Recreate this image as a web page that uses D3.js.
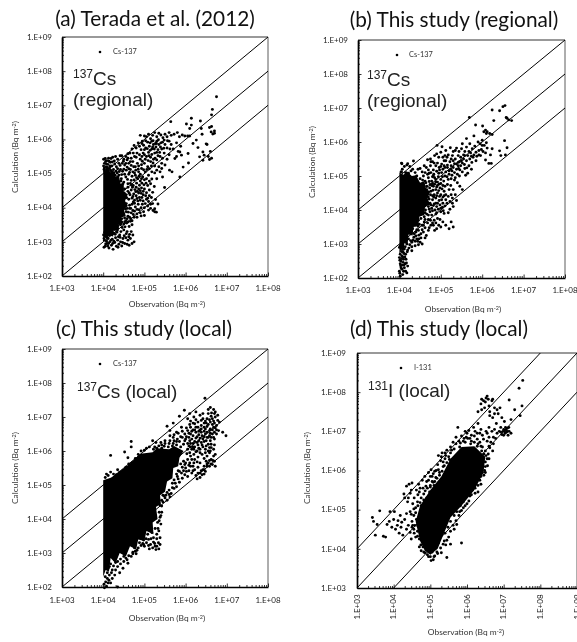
<!DOCTYPE html>
<html><head><meta charset="utf-8">
<script src="https://cdnjs.cloudflare.com/ajax/libs/d3/7.8.5/d3.min.js"></script>
<style>html,body{margin:0;padding:0;background:#fff;overflow:hidden}svg{display:block;filter:blur(.3px)}</style>
</head><body><svg id="c" width="577" height="642"></svg>
<script>
// All pairs are [log10 observation, log10 calculation].
const titles = ["(a) Terada et al. (2012)", "(b) This study (regional)", "(c) This study (local)", "(d) This study (local)"];
const xTickExpA = [3,4,5,6,7,8];
const xTickExpD = [3,4,5,6,7,8,9];
const yTickExpA = [2,3,4,5,6,7,8,9];
const yTickExpD = [3,4,5,6,7,8,9];
const ratioLinesA = [[[3,4],[8,9]],[[3,3],[8,8]],[[3,2],[8,7]]];
const ratioLinesD = [[[3,4],[8,9]],[[3,3],[9,9]],[[4,3],[9,8]]];

// Saturated (fully overlapping) part of each cloud, outlined
const coreA = [[4,3.1],[4,5.2],[4.06,5.1],[4.1,5.22],[4.17,5.03],[4.24,5.12],[4.3,4.9],[4.38,4.96],[4.42,4.7],[4.5,4.72],[4.5,4.45],[4.6,4.4],[4.53,4.2],[4.6,4.05],[4.5,3.95],[4.55,3.75],[4.44,3.72],[4.47,3.5],[4.36,3.5],[4.38,3.3],[4.26,3.35],[4.24,3.15],[4.14,3.22],[4.1,3.02],[4.05,3.15]];
const coreB = [[4,2.7],[4,5.1],[4.1,5.04],[4.18,5.14],[4.3,5],[4.4,5.02],[4.5,4.8],[4.6,4.85],[4.65,4.6],[4.75,4.55],[4.68,4.35],[4.74,4.15],[4.62,4.1],[4.6,3.85],[4.48,3.8],[4.46,3.55],[4.34,3.5],[4.32,3.25],[4.22,3.28],[4.2,3],[4.12,3.02],[4.1,2.72],[4.05,2.85]];
const coreC = [[4,2.3],[4,5.14],[4.2,5.22],[4.6,5.58],[4.9,5.92],[5.2,5.96],[5.3,6.08],[5.6,6.05],[5.72,6.15],[5.95,6],[5.85,5.8],[5.82,5.55],[5.7,5.5],[5.68,5.2],[5.55,5.1],[5.5,4.8],[5.38,4.7],[5.4,4.45],[5.28,4.35],[5.32,4],[5.2,3.9],[5.22,3.55],[5.05,3.65],[5,3.35],[4.85,3.4],[4.8,3.1],[4.65,3.2],[4.55,2.9],[4.4,3],[4.3,2.7],[4.18,2.85],[4.14,2.45],[4.06,2.5]];
const coreD = [[4.72,4.2],[4.6,4.7],[4.72,5.1],[5,5.5],[5.3,5.85],[5.55,6.3],[5.85,6.6],[6.2,6.62],[6.5,6.35],[6.45,5.95],[6.2,5.5],[5.85,5.1],[5.55,4.8],[5.35,4.35],[5.2,4],[5,3.85],[4.85,3.95]];

const pointsA = [[6.75,7.25],[6.65,6.88],[6.63,6.72],[6.63,6.38],[6.7,6.25],[6.7,6.18],[6.63,5.45],[6.5,5.87],[6.6,5.65],[6.55,5.5],[6.66,6.16],
[5.64,6.52],[6.14,6.62],[6.02,6.45],[6.14,6.42],[6.1,6.32],[6.36,6.54],[6.58,6.35],[6.62,6.22],[6.38,6.32],[6.4,6.15],[6.26,5.98],[6.18,5.88],[6.52,5.85],[6.3,5.76],[6.42,5.63],[6.34,5.49],[6.45,5.54],[6.58,5.41],[6.42,5.39],[6.06,5.59],[6.07,5.31],[5.94,5.19],[5.86,5.63],[5.9,5.54],[5.74,5.44],[5.61,5.1],[5.67,5.05],[5.86,4.9],[5.49,4.59],[5.33,4.11],[5.25,3.97],[5.21,3.92],[5.29,3.87],[5,3.77],[5.25,3.88],
[5.72,6.15],[5.8,6.2],[5.85,6.08],[5.92,6.13],[5.98,6.1],[6.05,6.1],[6.1,6.1],[5.65,6.12],[5.6,6.2],[5.55,6.08],[5.5,6.15],[5.45,6.05],[5.4,6.13],[5.35,6.18],[5.3,6.08],[5.25,6.2],[5.2,6.12],[5.15,6.02],[5.1,6.15],[5.05,6.08],[5,6.1],[4.95,5.95],[4.9,6.12],[4.85,5.9],[4.8,5.75],[4.75,5.82],[4.7,5.72],[4.65,5.6],[4.6,5.58],[4.55,5.5],[4.45,5.52],[4.5,5.42],
[5.3,5.95],[5.22,5.85],[5.28,5.78],[5.18,5.95],[5.12,5.8],[5.08,5.92],[5.03,5.75],[4.98,5.83],[4.92,5.7],[4.88,5.55],[4.82,5.6],[4.76,5.5],[4.72,5.35],[4.68,5.45],[4.62,5.3],[4.58,5.4],[5.35,5.85],[5.4,5.9],[5.33,5.7],[5.25,5.6],[5.18,5.72],[5.1,5.62],[5.05,5.5],[4.97,5.6],[4.9,5.42],[4.83,5.3],[4.78,5.2],[5.42,5.72],[5.5,5.85],[5.55,5.75],[5.6,5.95],[5.65,5.85],[5.7,5.72],[5.48,5.6],[5.38,5.5],[5.3,5.4],[5.22,5.42],[5.15,5.35],[5.08,5.2],[5,5.3],[4.93,5.15],[4.86,5.05],[5.78,5.9],[5.82,5.65],[5.88,5.8],[5.78,5.5],[5.6,5.55],[5.55,5.42],[5.42,5.3],[5.35,5.2],[5.5,5.25],
[5.3,5.1],[5.25,5.22],[5.18,5.05],[5.1,4.95],[5.02,5.05],[5.05,4.85],[4.96,4.9],[4.9,4.78],[4.84,4.85],[4.78,4.95],[4.72,5.05],[4.66,5.12],[4.62,4.98],[4.56,5.1],[4.52,5.25],[4.46,5.3],[4.42,5.12],[4.38,4.95],[4.44,4.85],[4.5,4.75],[4.55,4.9],[4.6,4.7],[4.68,4.8],[4.73,4.65],[4.8,4.6],[4.86,4.55],[4.92,4.42],[5,4.55],[5.08,4.65],[5.15,4.7],[5.2,4.45],[5.12,4.35],[5.05,4.25],[4.97,4.2],[4.88,4.3],[4.8,4.35],[4.74,4.4],[4.68,4.52],[4.6,4.48],[4.54,4.35],[4.46,4.55],[4.42,4.35],[4.4,4.62],[4.48,4.18],[4.56,4.12],[4.62,4.25],[4.7,4.1],[4.78,4.02],[4.85,4.1],[4.92,4],[5,4],[5.08,4.05],[5.15,4.1],[4.72,3.92],[4.64,3.98],[4.56,3.88],[4.48,3.95],[4.42,3.82],[4.45,3.68],[4.52,3.7],[4.6,3.75],[4.67,3.68],[4.75,3.72],[4.82,3.82],[4.9,3.85],[4.38,3.55],[4.42,3.5],[4.5,3.52],[4.57,3.55],[4.63,3.45],[4.7,3.5],[4.35,3.4],[4.43,3.3],[4.5,3.35],[4.58,3.3],[4.64,3.22],[4.68,3.3],[4.55,3.12],[4.6,3.05],[4.66,3.1],[4.72,3.2],[4.75,3],[4.7,2.95],
[4.01,3.2],[4.03,3.05],[4.05,2.87],[4.07,3.15],[4.09,2.95],[4.02,2.84],[4.12,3.1],[4.14,2.82],[4.16,3],[4.18,3.2],[4.2,2.9],[4.22,3.08],[4.24,2.78],[4.26,3.25],[4.28,2.98],[4.3,3.12],[4.32,2.87],[4.35,3.05],[4.38,2.93],[4.4,3.2],[4.42,3],[4.45,2.88],[4.48,3.1],[4.52,2.95],[4.04,3.28],[4.1,3.3],[4.16,3.32],[4.02,3.1],[4.11,2.88],[4.19,3.05],[4.26,3.02],[4.33,3.28],[4.47,2.98],[4.58,2.93],[4.63,2.9],[4.28,3.36],[4.24,3.45],[4.33,3.6],
[4.01,5.42],[4.03,5.3],[4.05,5.44],[4.07,5.2],[4.02,5.12],[4.09,5.38],[4.11,5.27],[4.13,5.45],[4.15,5.15],[4.04,5.05],[4.06,5.36],[4.01,5.22],[4.12,5.07],[4.17,5.33],[4.19,5.44],[4.21,5.22],[4.23,5.48],[4.2,5.05],[4.25,5.12],[4.27,5.37],[4.3,5.5],[4.32,5.2],[4.35,5.42],[4.29,4.95],[4.34,5.02],[4.38,5.3],[4.41,5.52],[4.18,5.1],[4.28,5.28],[4.1,5.18],[4.24,4.85],[4.3,4.78],[4.36,4.68],[4.33,4.88],[4.4,4.45],[4.44,4.22],[4.38,4.08],[4.42,4.02],[4.52,4.05],[4.47,4.42],[4.52,4.55],[4.6,4.6],[4.65,4.38],[4.7,4.28],[4.58,3.98],[4.68,3.85],[4.76,4.22],[4.84,4.2],[4.95,4.1],
[4.48,4.7],[4.43,4.78],[4.51,4.43],[4.49,4.05],[4.47,3.84],[4.39,3.66],[4.36,3.47],[4.54,3.96],[4.5,3.82],[4.55,3.62],[4.61,3.87],[4.64,4.07],[4.57,4.29],[4.63,4.43],[4.71,4.6],[4.66,4.71],[4.59,4.83],[4.52,4.98],[4.47,5.07],[4.41,5.24],[4.35,5.14],[4.26,5.02],[4.16,5.22],[4.08,5.12],[4.03,5.16],[4.22,5.34],[4.14,5.36],[4.07,5.29],[4.31,5.07],[4.39,5.06],[4.45,4.97],[4.5,5.13],[4.58,5.19],[4.64,5.03],[4.7,4.92],[4.75,4.81],[4.81,4.72],[4.88,4.66],[4.94,4.72],[4.99,4.67],[4.93,4.58],[4.86,4.43],[4.79,4.47],[4.72,4.33],[4.76,4.13],[4.82,3.95],[4.87,3.94],[4.73,3.8],[4.66,3.6],[4.6,3.58],[4.53,3.44],[4.46,3.42],[4.41,3.13],[4.37,3.15],[4.29,3.22],[4.23,3.24],[4.14,3.2],[4.08,3.02],[4.06,2.94],[4.13,2.95],[4.23,2.95],[4.36,2.84],[4.51,3.18],[4.56,3.24],[4.62,3.15],[4.9,4.98],[4.85,5.13],[4.79,5.1],[4.74,5.2],[4.68,5.24],[4.62,5.14],[4.55,5.3],[4.49,5.36],[4.93,5.26],[4.98,5.11],[5.06,5.12],[5.12,5.14],[5.17,5.22],[5.21,5.31],[5.26,5.45],[5.33,5.52],[5.15,5.48],[5.09,5.38],[5.02,5.42],[4.95,5.36],[4.86,5.22],[5.44,5.45],[5.47,5.74],[5.37,5.62],[5.29,5.88],[5.2,5.78],[5.14,5.68],[5.07,5.73],[5,5.7],[4.94,5.5],[5.25,5.02],[5.18,4.84],[5.12,4.78],[5.04,4.72],[5,4.82],[4.97,4.38],[5.05,4.44],[5.12,4.52],[5.17,4.3],[5.1,4.18],[5.02,4.12],[4.9,4.22],[5.24,4.62],[5.3,4.85],[5.38,5.05],[5.44,4.9],[5.42,5.15],[5.2,4.12],[5.15,3.98],[5.27,4.24],[5.1,3.93],[4.98,3.88],[4.92,3.76],
[4.76,5.02],[4.81,4.88],[4.87,4.92],[4.93,4.85],[4.69,4.66],[4.77,4.53],[4.83,4.48],[4.9,4.5],[4.97,4.48],[5.03,4.35],[5.08,4.28],[4.94,4.3],[4.82,4.27],[4.73,4.17],[4.67,3.98],[4.76,3.9],[4.82,3.72],[4.58,3.68],[4.64,3.72],[4.7,3.62],[4.52,3.58],[4.45,3.58],[5.14,5.9],[5.21,5.96],[5.27,5.88],[5.34,5.99],[5.39,5.78],[5.44,5.92],[5.48,5.98],[5.56,5.96],[5.62,5.72],[5.24,5.72],[5.3,5.62],[5.18,5.56],[5.11,5.52],[5,5.55],[4.88,5.8],[4.94,5.88],[5.03,5.96],[4.8,5.48],[4.73,5.6],[4.66,5.35],[4.6,5.45]];

const pointsB = [[6.24,6.94],[6.42,6.92],[6.55,7.07],[6.5,7.04],[5.69,6.72],[6.28,6.63],[6.6,6.7],[6.64,6.65],[6.71,6.63],[6.58,6.72],[5.84,6.5],[6.01,6.47],[6.08,6.35],[6.12,6.3],[6.18,6.25],[6.04,6.3],[6.1,6.25],[6.24,6.22],[6.54,6.04],[6.6,5.83],[6.42,5.74],[6.56,5.62],[6.45,5.6],[6.24,5.8],[6.2,5.62],[6.08,5.47],[6.16,5.37],[6.22,5.37],[5.8,6.18],[5.62,6.1],[5.52,5.95],[5.23,5.83],[5.03,5.86],[4.91,5.9],[5,5.7],[5.12,5.75],[4.85,5.6],[4.95,5.55],[4.9,5.65],[5.35,5.75],[5.42,5.6],[5.5,5.8],[5.58,5.72],[5.62,5.85],[5.7,5.95],[5.76,5.8],[5.82,5.88],[5.9,6],[5.95,5.95],[6,6.05],[5.85,5.7],[5.92,5.75],[5.98,5.78],[6.05,5.9],[6.1,5.98],[5.65,5.6],[5.72,5.68],[5.78,5.55],[5.85,5.45],[5.75,5.4],[5.68,5.3],[5.62,5.45],[5.55,5.5],[5.48,5.55],[5.42,5.4],[5.35,5.5],[5.28,5.6],[5.22,5.42],[5.15,5.55],[5.08,5.45],[5.02,5.35],[4.96,5.25],[5.1,5.25],[5.2,5.15],[5.3,5.25],[5.38,5.2],[5.48,5.3],[5.52,5.12],[5.58,5.22],[5.65,5.08],[5.6,5.02],[5.45,5],[5.35,4.95],[5.27,5.02],[5.18,4.9],[5.1,5],[5.02,5.1],[4.95,5.08],[4.88,5.3],[4.82,5.18],[4.75,5.3],[4.7,5.18],[4.65,5.25],[4.6,5.3],[4.55,5.12],[4.5,5.22],[4.45,5.2],[4.38,5.1],[4.32,5.2],[4.25,5.28],[4.18,5.32],[4.12,5.28],[4.07,5.2],[4.2,5.36],[4.05,5.12],[4.28,5.15],[4.15,5.1],[4.22,5.08],[4.42,5],[4.5,4.92],[4.58,5],[4.62,4.85],[4.7,4.95],[4.78,4.85],[4.85,4.95],[4.92,4.82],[5,4.9],[5.05,4.72],[4.98,4.65],[4.9,4.68],[4.82,4.7],[4.74,4.75],[4.66,4.7],[4.58,4.75],[4.5,4.72],[4.52,4.55],[4.6,4.55],[4.68,4.5],[4.76,4.55],[4.84,4.45],[4.92,4.5],[5,4.45],[5.08,4.55],[5.2,4.6],[5.25,4.45],[5.12,4.3],[5.05,4.2],[4.96,4.28],[4.88,4.2],[4.8,4.3],[4.72,4.32],[4.64,4.35],[4.55,4.38],[4.5,4.3],[4.48,4.15],[4.56,4.18],[4.62,4.12],[4.7,4.1],[4.78,4.05],[4.86,4],[4.94,4.02],[5,3.95],[5.08,3.9],[5.18,3.92],[5.22,4.25],[5.28,4.2],[5.3,4.1],[5.25,3.65],[5.3,3.5],[5.2,3.45],[5.12,3.55],[5.05,3.65],[5,3.5],[4.92,3.75],[4.84,3.7],[4.78,3.85],[4.7,3.85],[4.62,3.92],[4.55,3.95],[4.48,3.9],[4.4,3.9],[4.38,3.75],[4.46,3.7],[4.52,3.75],[4.6,3.65],[4.68,3.62],[4.76,3.55],[4.85,3.4],[4.9,3.45],[4.95,3.55],[4.55,3.55],[4.45,3.52],[4.38,3.55],[4.32,3.45],[4.28,3.55],[4.4,3.35],[4.46,3.4],[4.52,3.3],[4.58,3.35],[4.65,3.25],[4.7,3.4],[4.35,3.2],[4.28,3.3],[4.22,3.15],[4.3,3.05],[4.42,3.15],[4.5,3.05],[4.55,3],[4.46,2.98],[4.38,2.95],[4.25,2.98],[4.18,3],[4.12,3.1],[4.2,2.82],[4.3,2.8],[4.12,2.85],[4.05,2.78],[4.15,2.7],[4.08,2.62],[4.02,2.7],[4.1,2.55],[4.04,2.5],[4.16,2.55],[4.14,2.42],[4.07,2.38],[4.02,2.42],[4.12,2.3],[4.04,2.3],[4.2,2.35],[4.15,2.2],[4.18,2.15],[4.08,2.1],[4.02,2.05],[4.1,2.2],[4.06,2.65],[4,2.9],[4,2.6],[4,2.2],[4.34,5.44],[4.06,5.36],[4.04,5.12],[4.05,5.38],[4.3,4.95],[4.35,4.82],[4.68,5.48],[4.75,5.5],[4.8,5.42],
[4.02,2.95],[4.07,2.86],[4.11,2.72],[4.05,2.57],[4.01,2.52],[4.13,2.62],[4.09,2.46],[4.03,2.36],[4.06,2.26],[4.01,2.14],[4.11,2.38],[4.17,2.44],[4.09,2.76],[4.14,2.92],[4.19,2.77],[4.23,2.88],[4.27,3.1],[4.33,3.12],[4.4,3.24],[4.47,3.26],[4.44,3.08],[4.36,3.3],[4.48,3.58],[4.6,3.8],[4.63,4],[4.67,4.22],[4.74,4.2],[4.82,4.13],[4.9,4.1],[4.98,4.15],[5.04,4.08],[5.1,4.12],[5.15,4.2],[5.18,4.4],[5.12,4.45],[5.05,4.38],[4.97,4.4],[4.88,4.35],[4.8,4.42],[4.7,4.38],[4.66,4.6],[4.73,4.65],[4.81,4.58],[4.88,4.6],[4.95,4.57],[5.03,4.62],[5.1,4.7],[5.16,4.75],[5.24,4.72],[5.3,4.6],[5.33,4.88],[5.25,4.92],[5.15,4.98],[5.07,4.85],[4.96,4.76],[4.88,4.82],[4.8,4.78],[4.72,4.84],[4.64,4.8],[4.56,4.88],[4.62,5.1],[4.68,5.05],[4.76,5.1],[4.83,5.05],[4.9,5.14],[4.97,5.18],[5.05,5.2],[5.12,5.12],[5.2,5.05],[5.27,5.15],[5.33,5.1],[5.4,5.05],[5.46,5.18],[5.42,5.3],[5.33,5.36],[5.25,5.3],[5.16,5.32],[5.08,5.3],[5,5.28],[4.92,5.38],[4.84,5.38],[4.76,5.42],[5.05,5.55],[5.12,5.45],[5.18,5.62],[5.1,5.6],[5.3,5.45],[5.38,5.35],[5.45,5.42],[5.52,5.38],[5.57,5.34],[5.63,5.24],[5.7,5.5],[5.74,5.2],[5.8,5.62],[5.87,5.58],[5.92,5.62],[5.96,5.6],[6.02,5.72],[6.08,5.68],[6,5.9],[6.12,5.82],[5.4,4.8],[5.46,4.7],[5.52,4.6],[5.28,4.35],[5.35,4.45],[5.38,4.28],[5.22,4.02],[4.75,3.7],[4.82,3.55],[4.88,3.62],[4.98,3.72],[4.9,3.92],[4.72,3.48],[4.62,3.48],[4.55,3.42],[4.52,3.18],[4.62,3.18],[4.47,3.15],[4.38,3.08],[4.3,2.92],
[4.78,4.72],[4.85,4.76],[4.92,4.72],[5.0,4.78],[4.88,4.9],[4.94,4.98],[5.04,4.98],[4.8,4.98],[4.72,5.08],[4.82,5.0],[4.75,4.45],[4.83,4.38],[4.9,4.42],[5.02,4.3],[5.08,4.42],[4.92,4.2],[4.84,4.18],[4.76,4.15],[4.72,4.02],[4.8,3.98],[4.88,3.88],[5.0,4.05],[5.06,3.98],[4.66,3.88],[4.74,3.95],[4.7,3.72],[4.8,3.62],[4.58,3.55],[4.62,3.72],[4.42,3.42],[5.3,5.72],[5.38,5.82],[5.44,5.72],[5.55,5.62],[5.68,5.72],[5.74,5.58],[5.58,5.6],[5.25,5.5],[5.16,5.25],[5.24,5.2],[5.43,5.22],[5.5,5.45]];

const pointsC = [[6.47,7.55],[5.97,7.2],[5.85,7.02],[6.1,7.1],[6.05,6.95],[5.7,6.82],[5.55,6.73],[5.62,6.6],[5.78,6.55],[5.9,6.7],[6.2,7],[6.25,7.15],[6.35,7.05],[6.42,6.95],[6.55,7.22],[6.6,7.28],[6.68,7.22],[6.63,7.12],[6.7,7.1],[6.72,7],[6.65,6.95],[6.78,6.9],[6.82,6.85],[6.6,6.85],[6.52,6.95],[6.45,6.82],[6.38,6.75],[6.3,6.85],[6.22,6.8],[6.12,6.7],[6.05,6.6],[5.98,6.5],[5.88,6.42],[5.8,6.35],[5.72,6.3],[5.62,6.3],[5.5,6.3],[5.4,6.25],[5.35,6.15],[5.28,6.25],[5.2,6.3],[5.12,6.12],[5.05,6.08],[5,6.02],[4.92,6],[4.85,5.9],[4.78,5.78],[4.7,5.65],[4.62,5.62],[4.55,5.52],[4.48,5.42],[4.4,5.38],[4.32,5.3],[4.25,5.32],[4.18,5.38],[4.12,5.28],[4.05,5.22],[4.08,5.32],[4.35,5.45],[4.6,5.8],[4.68,6.12],[4.68,6.28],[4.52,5.97],[4.18,5.87],
[6.1,6.3],[6.18,6.45],[6.25,6.55],[6.35,6.62],[6.45,6.7],[6.52,6.55],[6.6,6.65],[6.68,6.7],[6.75,6.75],[6.7,6.55],[6.62,6.4],[6.55,6.4],[6.48,6.5],[6.4,6.45],[6.32,6.3],[6.25,6.38],[6.18,6.22],[6.08,6.15],[6.15,6.05],[6.05,6.05],[6.22,6.12],[6.3,6.18],[6.38,6.25],[6.28,6],[6.2,5.9],[6.12,5.85],[6.05,5.75],[5.98,5.6],[5.92,5.52],[5.85,5.4],[5.8,5.25],[5.72,5.15],[5.68,5.05],[5.6,4.85],[5.55,4.78],[5.48,4.68],[5.42,4.55],[6.1,5.65],[6.18,5.55],[6.22,5.75],[6.3,5.82],[6.35,5.65],[6.4,5.9],[6.48,6.05],[6.55,6.2],[6.62,6.2],[6.7,6.35],[6.58,5.95],[6.68,6.05],[6.72,5.9],[6.62,5.75],[6.7,5.7],[6.72,5.55],[6.65,5.6],[6.58,5.55],[6.5,5.7],[6.42,5.45],[6.48,5.4],[6.52,5.55],[6.58,5.72],[6.3,5.35],[6.4,5.3],[6.35,5.22],[6.28,5.18],[6.45,5.32],[6.22,5.45],[6.15,5.35],[6.08,5.42],[6.05,5.25],[5.98,5.3],[5.92,5.2],[5.85,5.08],[5.78,4.95],[5.72,4.9],[5.65,4.75],[5.55,4.55],[5.62,4.65],[6.9,6.55],[6.98,6.45],[6.8,6.6],[6.6,6.3],[6.5,6.3],[6.65,6.5],
[5.38,4.4],[5.42,4.2],[5.38,4.05],[5.4,3.85],[5.35,3.65],[5.38,3.45],[5.3,3.2],[5.35,3.12],[5.28,3.1],[5.25,3.28],[5.2,3.15],[5.15,3.25],[5.1,3.4],[5.05,3.3],[5,3.2],[4.92,3.22],[4.85,3.15],[4.78,3.05],[4.72,2.98],[4.62,2.92],[4.55,2.85],[4.5,2.75],[4.42,2.68],[4.35,2.6],[4.3,2.72],[4.22,2.5],[4.28,2.35],[4.18,2.68],[4.12,2.55],[4.15,2.35],[4.1,2.25],[4.06,2.15],[4.02,2.08],[4.08,2.02],[4.12,2.12],[4.35,2],[4.03,1.98],[4.22,2.25],[4.18,2.12],[5.32,3.9],[5.26,3.72],[5.22,3.45],[5.3,3.55],[5.34,3.3],[5.18,3.6],[5.12,3.12],[5.08,3.55],[4.98,3.38],[4.8,2.98],[4.6,2.7],[4.48,2.55],[4.4,2.42],[5.38,3.25],[5.36,4.2],[6,5.5],[5.35,4.45],[5.45,4.7],[5.5,4.62],
[5.95,6.2],[5.88,6.12],[5.78,6.18],[5.68,6.15],[5.58,6.12],[5.48,6.14],[5.42,6.08],[5.3,6.08],[5.22,6.05],[5.62,6.45],[5.72,6.48],[5.82,6.52],[5.92,6.58],[6,6.35],[6.05,6.22],[6.12,6.5],[6.18,6.62],[6.25,6.7],[6.32,6.48],[6.38,6.55],[6.42,6.35],[6.48,6.65],[6.55,6.78],[6.6,6.52],[6.65,6.62],[6.7,6.82],[6.75,6.62],[6.62,7.02],[6.55,7.1],[6.48,6.88],[6.42,7.1],[6.38,6.9],[6.3,6.7],[6.25,6.92],[6.18,6.82],[6.12,6.88],[6.72,7.15],[6.78,7.05],[6.75,6.5],[6.68,6.4],[6.58,6.1],[6.5,6.15],[6.42,6.12],[6.35,6.05],[6.28,6.25],[6.2,6.05],[6.12,6.12],[6.03,5.92],[6.1,5.95],[6.15,5.75],[6.08,5.58],[6.02,5.4],[5.95,5.42],[5.9,5.35],[5.82,5.18],[5.75,5.05],[5.68,4.92],[5.6,4.72],[5.52,4.7],[5.45,4.5],[5.42,4.38],[5.4,4.1],[5.36,3.95],[5.33,3.72],[5.3,3.42],[5.26,3.2],[5.22,3.32],[5.16,3.42],[5.1,3.22],[5.04,3.42],[4.96,3.28],[4.88,3.3],[4.82,3.08],[4.76,3.15],[4.68,2.9],[4.58,2.8],[4.5,2.9],[4.42,2.82],[4.35,2.75],[4.3,2.5],[4.25,2.62],[4.2,2.42],[4.15,2.6],[4.1,2.42],[4.05,2.3],[4.14,2.2],[4.28,2.8],[4.72,3.02],[4.98,3.25],[6.3,5.52],[6.38,5.42],[6.45,5.55],[6.55,5.65],[6.62,5.62],[6.68,5.85],[6.6,6],[6.52,5.85],[6.45,5.78],[6.35,5.95],[6.28,5.68],[6.2,5.65],[5.7,6.4],[5.5,6.22],[5.25,6.12],[5.42,6.18],[6.02,6.68],[6.1,6.78],
[6.02,6.42],[6.08,6.4],[6.15,6.35],[6.22,6.28],[6.28,6.42],[6.35,6.38],[6.45,6.42],[6.52,6.72],[6.58,6.6],[6.65,6.78],[6.72,6.68],[6.68,6.88],[6.58,6.92],[6.5,6.82],[6.45,6.58],[6.38,6.65],[6.32,6.58],[6.22,6.62],[6.15,6.58],[6.08,6.52],[5.98,6.3],[5.92,6.4],[5.85,6.28],[5.78,6.28],[5.7,6.22],[5.6,6.22],[6.12,6.22],[6.18,6.12],[6.25,5.98],[6.32,6.08],[6.4,6.18],[6.45,6.28],[6.52,6.4],[6.58,6.45],[6.48,5.95],[6.55,6.0],[6.62,6.1],[6.7,6.18],[6.66,5.72],[6.52,5.62],[6.45,5.45],[6.35,5.35],[6.25,5.28],[6.18,5.42],[6.12,5.55],[6.0,5.65],[5.95,5.7],[5.88,5.62],[5.82,5.42],[5.78,5.32]];

const pointsD = [[3.42,4.8],[3.45,4.7],[3.62,4.97],[3.55,4.62],[3.5,4.35],[3.72,4.32],[3.78,4.3],[3.82,4.62],[3.88,4.7],[3.9,4.95],[3.95,4.55],[4,4.75],[4.02,4.95],[4.05,4.5],[4.1,4.6],[4.12,4.72],[4.15,4.4],[4.18,4.85],[4.2,4.55],[4.22,4.68],[4.28,5.4],[4.35,5.6],[4.3,4.75],[4.35,4.9],[4.38,5.2],[4.42,5.65],[4.48,5.5],[4.5,5.68],[4.45,4.95],[4.4,4.6],[4.45,4.42],[4.5,4.7],[4.55,4.5],[4.6,4.3],[4.52,5.15],[4.56,5.3],[4.6,5.05],[4.65,5.2],[4.7,5.45],[4.75,5.3],[4.68,5.65],[4.78,5.75],[4.85,5.85],[4.95,5.95],[5.02,6.02],[4.88,5.6],[4.95,5.75],[4.7,4.05],[4.75,3.95],[4.8,4.05],[4.85,3.9],[4.92,3.85],[5,3.8],[5.02,3.7],[5.08,3.72],[5.12,3.82],[5.2,3.88],[5.3,3.9],[5.45,3.78],[5.55,4.12],[5.85,4.15],[5.65,4.5],[5.7,4.72],[5.5,4.3],[5.42,4.1],[5.8,4.95],[5.9,5.05],[6,5.15],[6.08,5.35],[6.15,5.5],[6.25,5.7],[6.35,5.75],[6.42,5.95],[6.5,6.1],[6.55,6.3],
[5.2,6.15],[5.3,6.35],[5.22,6.38],[5.28,6.25],[5.32,6.45],[5.4,6.3],[5.45,6.52],[5.55,6.6],[5.62,6.72],[5.7,6.85],[5.78,6.75],[5.85,6.88],[5.92,6.82],[6,6.95],[6.05,7.02],[6.12,6.9],[6.2,6.88],[6.28,6.8],[6.35,6.72],[6.42,6.6],[6.5,6.5],[6.45,6.8],[6.55,6.75],[6.6,6.62],[6.52,7],[6.38,7.05],[6.3,7.2],[6.22,7],[5.75,7.1],[5.95,7],
[6.55,6.95],[6.6,7.1],[6.68,7],[6.72,6.85],[6.65,6.72],[6.75,7.05],[6.82,6.95],[6.88,7],[6.95,6.92],[7,7.05],[7.05,7.1],[7.02,7],[7.08,6.98],[7.1,7.08],[7.15,7],[7.12,6.9],[7.2,6.95],[6.92,7.1],[6.8,7.2],[6.7,7.35],[6.62,7.4],[6.85,7.45],[6.9,7.6],[6.95,7.35],[7.02,7.25],[7.2,7.3],[7.3,7.55],[7.45,7.4],[7.5,7.65],[7.42,8.1],[7.52,8.3],[7.15,7.8],[6.75,7.6],[6.82,7.55],
[6.38,7.7],[6.4,7.82],[6.5,7.75],[6.48,7.6],[6.6,7.65],[6.55,7.9],[6.4,7.55],[6.68,7.78],[6.58,7.82],[6.7,7.82],[6.45,7.78],[6.52,7.85],[6.62,7.5],[6.3,7.5],[6.75,7.45],[6.35,6.95],
[5.05,5.85],[5.12,5.98],[5,5.62],[5.08,5.7],[5.16,6],[4.9,5.3],[4.98,5.45],[4.82,5.25],[4.75,5.1],[4.8,4.95],[4.62,4.75],[4.66,4.58],[4.55,4.85],[4.72,4.52],[4.58,4.6],[4.65,4.32],[4.7,4.25],[5.35,4.12],[5.22,4.15],[5.12,4.05],[5.05,3.92],[4.95,3.95],[4.88,4.1],[5.4,4.4],[5.48,4.55],[5.55,4.7],[5.65,4.85],[5.72,4.95],[5.82,5.1],[5.9,5.2],[5.98,5.38],[6.05,5.48],[6.15,5.62],[6.22,5.55],[6.3,5.62],[6.38,5.85],[6.48,6],[6.5,6.22],[6.4,6.5],[6.3,6.68],[6.12,6.75],[5.95,6.72],[5.8,6.6],[5.65,6.55],[5.55,6.45],[5.45,6.2],[5.35,6.1],[5.25,5.95],[5.15,5.82],[5.05,5.72],
[4.55,5.02],[4.48,4.88],[4.52,4.6],[4.6,4.92],[4.66,5.1],[4.72,5.18],[4.82,5.4],[4.86,5.48],[4.92,5.55],[5,5.58],[5.1,5.62],[5.18,5.8],[5.25,5.88],[5.32,5.98],[5.38,6.12],[5.42,6.38],[5.5,6.35],[5.58,6.52],[5.7,6.68],[5.82,6.7],[5.9,6.75],[6.02,6.82],[6.1,6.68],[6.2,6.72],[6.28,6.62],[6.38,6.62],[6.46,6.42],[6.52,6.38],[6.58,6.42],[6.6,6.3],[6.56,6.12],[6.5,5.95],[6.46,5.88],[6.38,5.65],[6.3,5.45],[6.22,5.42],[6.12,5.38],[6.05,5.22],[5.95,5.1],[5.85,4.98],[5.78,4.85],[5.72,4.62],[5.62,4.6],[5.55,4.45],[5.45,4.22],[5.38,4.2],[5.28,4.02],[5.18,3.92],[5.1,3.8],[4.95,3.8],[4.82,3.92],[4.74,4.1],[4.65,4.45],[4.56,4.4],[4.5,4.55],[4.48,4.25],[4.35,4.5],[4.25,4.35],[4.3,5.3],[4.4,5.3],[4.45,5.42],[4.62,5.5],[4.66,5.38],[4.72,5.55],[4.8,5.55],[4.9,5.72],[5,5.85],[5.08,5.92],[5.12,5.72],[5.22,6.02],[5.35,6.22],[5.4,6.45],[5.52,6.28],[6.62,6.58],[6.7,6.5],[6.72,6.68],[6.78,6.82],[6.6,6.85],[6.42,6.9],[6.28,6.95],[6.18,7.1],[6.08,6.82],[5.98,6.85],[6.92,6.98],[6.98,7],[7.04,6.95],[7.06,7.04],[7.1,7],[7,6.9],[7.14,7.1]];

const svg = d3.select("#c");
const FONT = "Lato, 'Open Sans', sans-serif", ARIAL = "'Liberation Sans', Arial, sans-serif";
const panels = [
 {title:titles[0], tx:155, ty:26, l:62, r:268, t:37, b:276, xs:xTickExpA, ys:yTickExpA, lines:ratioLinesA, core:coreA, pts:pointsA, leg:"Cs-137", lx:100, ly:52, ltx:113,
  big:["137","Cs"], bx:73, by:85, big2:"(regional)", by2:106, ylx:15, yly:157, xty:291, xtly:307, xtlx:167, ylabR:52, grayTop:true},
 {title:titles[1], tx:454, ty:27, l:358, r:565, t:40, b:278, xs:xTickExpA, ys:yTickExpA, lines:ratioLinesA, core:coreB, pts:pointsB, leg:"Cs-137", lx:397, ly:55, ltx:409,
  big:["137","Cs"], bx:367, by:86, big2:"(regional)", by2:107, ylx:312, yly:162, xty:293, xtly:312, xtlx:463, ylabR:348},
 {title:titles[2], tx:144, ty:336, l:62, r:268, t:349, b:587, xs:xTickExpA, ys:yTickExpA, lines:ratioLinesA, core:coreC, pts:pointsC, leg:"Cs-137", lx:100, ly:364, ltx:113,
  big:["137","Cs (local)"], bx:77, by:398, ylx:15, yly:468, xty:603, xtly:621, xtlx:167, ylabR:52},
 {title:titles[3], tx:439, ty:336, l:357, r:577, t:353, b:588, xs:xTickExpD, ys:yTickExpD, lines:ratioLinesD, core:coreD, pts:pointsD, leg:"I-131", lx:401, ly:368, ltx:414,
  big:["131","I (local)"], bx:368, by:397, ylx:307, yly:468, xty:0, xtly:635, xtlx:466, ylabR:346, rotX:true, grayTop:true}
];

panels.forEach(p=>{
  const xE = d3.extent(p.xs), yE = d3.extent(p.ys);
  const x = d3.scaleLog().domain([10**xE[0],10**xE[1]]).range([p.l,p.r]);
  const y = d3.scaleLog().domain([10**yE[0],10**yE[1]]).range([p.b,p.t]);
  const g = svg.append("g");
  const X = d=>x(10**d[0]), Y = d=>y(10**d[1]);

  // title
  g.append("text").attr("x",p.tx).attr("y",p.ty).attr("text-anchor","middle")
    .attr("font-family",FONT).attr("font-size",20.8).attr("fill","#111").text(p.title);

  // frame
  g.append("line").attr("x1",p.l).attr("x2",p.r).attr("y1",p.t).attr("y2",p.t).attr("stroke",p.grayTop?"#777":"#333").attr("stroke-width",p.grayTop?1.6:1);
  g.append("line").attr("x1",p.r).attr("x2",p.r).attr("y1",p.t).attr("y2",p.b).attr("stroke","#333").attr("stroke-width",.8);

  // ratio lines
  p.lines.forEach(ln=>{
    g.append("path").attr("d",d3.line().x(X).y(Y)(ln)).attr("fill","none").attr("stroke","#000").attr("stroke-width",1);
  });

  // saturated core and points
  g.append("path").attr("d",d3.line().x(X).y(Y).curve(d3.curveLinearClosed)(p.core)).attr("fill","#000");
  g.selectAll("circle.pt").data(p.pts).join("circle").attr("class","pt").attr("cx",X).attr("cy",Y).attr("r",1.45).attr("fill","#000");

  // axes with log minor ticks pointing inward
  const tickVals = s => { const [a,b]=d3.extent(s); const o=[]; for(let e=a;e<b;e++) for(let m=1;m<10;m++) o.push(m*10**e); o.push(10**b); return o; };
  const axB = d3.axisTop(x).tickValues(tickVals(p.xs)).tickFormat("").tickSizeOuter(0).tickSizeInner(2);
  const axL = d3.axisRight(y).tickValues(tickVals(p.ys)).tickFormat("").tickSizeOuter(0).tickSizeInner(2);
  const gb = g.append("g").attr("transform",`translate(0,${p.b})`).call(axB);
  const gl = g.append("g").attr("transform",`translate(${p.l},0)`).call(axL);
  [gb,gl].forEach(a=>{a.selectAll("line").attr("stroke","#000").attr("stroke-width",.8); a.select(".domain").attr("stroke","#000").attr("stroke-width",1.7);});
  gb.selectAll(".tick line").filter(d=>Math.abs(Math.log10(d)%1)<1e-6).attr("y2",-3.5);
  gl.selectAll(".tick line").filter(d=>Math.abs(Math.log10(d)%1)<1e-6).attr("x2",3.5);

  // tick labels
  const lab = e=>`1.E+${String(e).padStart(2,"0")}`;
  p.ys.forEach(e=> g.append("text").attr("x",p.ylabR).attr("y",y(10**e)+2.7).attr("text-anchor","end").attr("font-family",FONT).attr("font-size",8).attr("fill","#222").text(lab(e)));
  p.xs.forEach(e=>{
    if(p.rotX) g.append("text").attr("transform",`translate(${x(10**e)+2.8},607) rotate(-90)`).attr("text-anchor","middle").attr("font-family",FONT).attr("font-size",8).attr("fill","#222").text(lab(e));
    else g.append("text").attr("x",x(10**e)).attr("y",p.xty).attr("text-anchor","middle").attr("font-family",FONT).attr("font-size",8).attr("fill","#222").text(lab(e));
  });

  // axis titles
  const at = g.append("text").attr("x",p.xtlx).attr("y",p.xtly).attr("text-anchor","middle").attr("font-family",FONT).attr("font-size",8.4).attr("fill","#333");
  at.append("tspan").text("Observation (Bq m");
  at.append("tspan").attr("dy",-2).attr("font-size",5.5).text("-2");
  at.append("tspan").attr("dy",2).text(")");
  const yt = g.append("text").attr("transform",`translate(${p.ylx+3},${p.yly}) rotate(-90)`).attr("text-anchor","middle").attr("font-family",FONT).attr("font-size",8.4).attr("fill","#333");
  yt.append("tspan").text("Calculation (Bq m");
  yt.append("tspan").attr("dy",-2).attr("font-size",5.5).text("-2");
  yt.append("tspan").attr("dy",2).text(")");

  // legend
  g.append("circle").attr("cx",p.lx).attr("cy",p.ly).attr("r",1.3).attr("fill","#000");
  g.append("text").attr("x",p.ltx).attr("y",p.ly+2.4).attr("font-family",FONT).attr("font-size",7.4).attr("fill","#333").text(p.leg);

  // big label
  const bt = g.append("text").attr("x",p.bx).attr("y",p.by).attr("font-family",ARIAL).attr("font-size",19).attr("fill","#222");
  bt.append("tspan").attr("dy",-7).attr("font-size",12).text(p.big[0]);
  bt.append("tspan").attr("dy",7).text(p.big[1]);
  if(p.big2) g.append("text").attr("x",p.bx).attr("y",p.by2).attr("font-family",ARIAL).attr("font-size",19).attr("fill","#222").text(p.big2);
});
</script></body></html>
